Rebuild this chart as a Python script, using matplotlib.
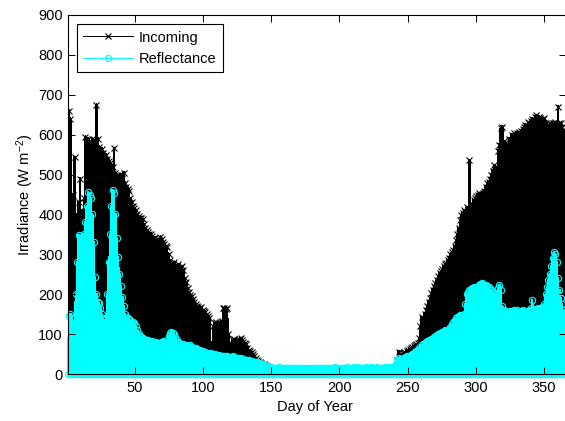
import numpy as np
import matplotlib
matplotlib.use('Agg')
import matplotlib.pyplot as plt

plt.rcParams['font.family'] = ['Liberation Sans', 'DejaVu Sans']
plt.rcParams['mathtext.fontset'] = 'custom'
plt.rcParams['mathtext.rm'] = 'Liberation Sans'
plt.rcParams['mathtext.it'] = 'Liberation Sans:italic'

# Day of year (1..365)
days = np.arange(1, 366)

# Daily peak incoming irradiance (W m-2)
incoming = [
    660, 640, 420, 450, 544, 400, 380, 430, 490, 410,
    400, 440, 595, 580, 590, 585, 575, 590, 580, 585,
    675, 590, 570, 560, 565, 555, 545, 550, 540, 535,
    530, 525, 520, 566, 505, 500, 495, 490, 500, 490,
    505, 480, 470, 465, 460, 440, 430, 420, 415, 410,
    400, 395, 390, 392, 388, 375, 365, 360, 355, 350,
    352, 345, 340, 342, 335, 330, 335, 344, 338, 330,
    325, 320, 318, 300, 285, 278, 275, 280, 272, 270,
    275, 265, 268, 270, 260, 240, 230, 215, 205, 198,
    195, 188, 180, 175, 170, 168, 165, 168, 160, 158,
    155, 150, 145, 140, 80, 77, 120, 128, 130, 125,
    128, 130, 132, 165, 166, 162, 165, 100, 77, 78,
    85, 88, 82, 86, 84, 88, 90, 86, 80, 78,
    75, 65, 60, 58, 55, 50, 45, 40, 35, 32,
    30, 28, 26, 25, 23, 20, 12, 11, 10, 9,
    10, 9, 8, 9, 10, 8, 9, 8, 10, 9,
    8, 9, 8, 10, 9, 8, 9, 8, 9, 10,
    9, 8, 10, 9, 8, 9, 10, 8, 9, 8,
    10, 9, 8, 9, 8, 10, 9, 8, 9, 10,
    8, 9, 10, 8, 9, 8, 10, 9, 8, 9,
    9, 8, 10, 9, 8, 9, 10, 8, 9, 8,
    10, 9, 8, 9, 10, 8, 9, 8, 10, 9,
    8, 9, 10, 9, 8, 9, 8, 10, 9, 10,
    9, 8, 10, 9, 10, 11, 10, 11, 12, 13,
    20, 35, 56, 45, 50, 52, 55, 53, 58, 60,
    62, 65, 68, 70, 72, 74, 77, 90, 120, 143,
    140, 150, 160, 170, 180, 190, 202, 210, 220, 228,
    235, 245, 252, 258, 262, 270, 275, 278, 285, 290,
    300, 305, 311, 320, 335, 350, 365, 385, 398, 403,
    410, 405, 418, 415, 536, 420, 425, 436, 440, 445,
    450, 453, 448, 452, 455, 460, 470, 478, 482, 490,
    500, 510, 524, 515, 519, 560, 575, 616, 620, 585,
    580, 565, 575, 590, 585, 600, 595, 603, 598, 605,
    606, 600, 610, 615, 620, 625, 618, 632, 630, 635,
    640, 638, 645, 649, 640, 645, 642, 635, 640, 641,
    630, 625, 620, 629, 625, 630, 628, 632, 625, 670,
    630, 628, 620, 610, 600,
]

# Daily peak reflected irradiance (W m-2)
reflectance = [
    145, 150, 140, 100, 130, 200, 280, 348, 340, 335,
    345, 350, 380, 420, 456, 450, 440, 400, 330, 243,
    200, 180, 178, 165, 150, 140, 135, 140, 200, 280,
    350, 420, 461, 455, 400, 340, 293, 250, 220, 193,
    170, 150, 143, 140, 138, 135, 128, 130, 128, 120,
    110, 100, 95, 92, 90, 88, 85, 86, 84, 82,
    80, 82, 80, 78, 80, 78, 77, 78, 80, 82,
    80, 78, 85, 95, 102, 105, 103, 100, 92, 85,
    80, 78, 76, 75, 74, 72, 72, 70, 73, 73,
    68, 66, 65, 64, 62, 60, 60, 58, 57, 56,
    55, 53, 52, 50, 52, 50, 48, 50, 48, 47,
    48, 46, 45, 46, 45, 44, 45, 43, 42, 43,
    44, 42, 40, 41, 40, 39, 40, 38, 37, 36,
    35, 35, 34, 33, 32, 31, 30, 30, 29, 28,
    27, 26, 25, 24, 22, 20, 18, 16, 17, 16,
    15, 16, 14, 15, 17, 15, 14, 16, 15, 14,
    15, 16, 14, 15, 14, 16, 15, 14, 15, 16,
    14, 15, 16, 15, 14, 15, 16, 14, 15, 14,
    15, 14, 16, 15, 14, 15, 14, 16, 15, 16,
    14, 15, 16, 14, 15, 17, 16, 15, 14, 15,
    16, 15, 14, 16, 17, 15, 14, 15, 16, 17,
    15, 16, 17, 15, 16, 14, 15, 16, 17, 16,
    15, 16, 17, 16, 15, 16, 17, 16, 15, 16,
    16, 15, 17, 16, 17, 18, 17, 18, 18, 19,
    25, 35, 40, 38, 36, 38, 40, 42, 44, 45,
    46, 48, 50, 52, 55, 58, 60, 64, 68, 72,
    75, 77, 80, 82, 84, 86, 88, 90, 93, 95,
    98, 100, 102, 104, 106, 108, 110, 108, 110, 112,
    118, 125, 130, 135, 140, 143, 145, 148, 145, 148,
    150, 175, 200, 206, 210, 212, 215, 218, 216, 218,
    220, 222, 225, 228, 226, 224, 222, 220, 218, 215,
    210, 205, 200, 195, 200, 215, 223, 210, 170, 160,
    155, 158, 153, 155, 157, 155, 158, 160, 158, 160,
    156, 155, 158, 160, 157, 155, 158, 155, 160, 165,
    185, 162, 160, 162, 165, 163, 165, 168, 166, 175,
    200, 218, 236, 250, 270, 290, 306, 300, 280, 240,
    210, 190, 175, 160, 145,
]

x_ticks = [50, 100, 150, 200, 250, 300, 350]
y_ticks = [0, 100, 200, 300, 400, 500, 600, 700, 800, 900]


def daily_series(peaks):
    # each day: night value 0, then the day's peak at midday
    xs, ys = [], []
    for d, p in zip(days, peaks):
        xs += [d, d + 0.5]
        ys += [0, p]
    xs.append(days[-1] + 1)
    ys.append(0)
    return np.array(xs, dtype=float), np.array(ys, dtype=float)


xi, yi = daily_series(incoming)
xr, yr = daily_series(reflectance)

fig = plt.figure(figsize=(5.65, 4.21), dpi=100)
W, H = 565.0, 421.0
ax = fig.add_axes([68.4 / W, 47 / H, (565.5 - 68.4) / W, (374 - 15) / H])

ax.plot(xi, yi, color='black', lw=1.2, marker='x', ms=4, mew=0.8,
        label='Incoming', zorder=1, antialiased=False)
ax.plot(xr, yr, color='cyan', lw=1.2, marker='o', ms=4.5, mew=0.8,
        mfc='none', label='Reflectance', zorder=1.5, clip_on=False,
        antialiased=False)

ax.set_xlim(1, 366)
ax.set_ylim(0, 900)
ax.set_xticks(x_ticks)
ax.set_yticks(y_ticks)
ax.tick_params(direction='in', length=5, width=0.7, top=True, right=True,
               labelsize=10.5, colors='black')
ax.tick_params(axis='y', pad=4)
ax.tick_params(axis='x', pad=5)
for s in ax.spines.values():
    s.set_linewidth(0.8)
    s.set_zorder(5)

ax.set_xlabel('Day of Year', fontsize=10.5)
ax.set_ylabel('Irradiance (W m$^{-2}$)', fontsize=10.5)
ax.xaxis.set_label_coords((315 - 68.4) / (565.5 - 68.4), -(400 - 374) / 359)
ax.yaxis.set_label_coords(-(68.4 - 36) / (565.5 - 68.4), 0.5)

leg = ax.legend(loc='upper left', bbox_to_anchor=(8.5 / 497, 1 - 9 / 359),
                fontsize=10.5, frameon=True, fancybox=False, framealpha=1,
                edgecolor='black', handlelength=3.4, handletextpad=0.4,
                labelspacing=0.5, borderpad=0.45, borderaxespad=0)
leg.get_frame().set_linewidth(0.8)
leg.set_zorder(10)
for h in leg.get_lines():
    h.set_linewidth(0.7)
    h.set_antialiased(True)

fig.savefig('out.png', dpi=100)
